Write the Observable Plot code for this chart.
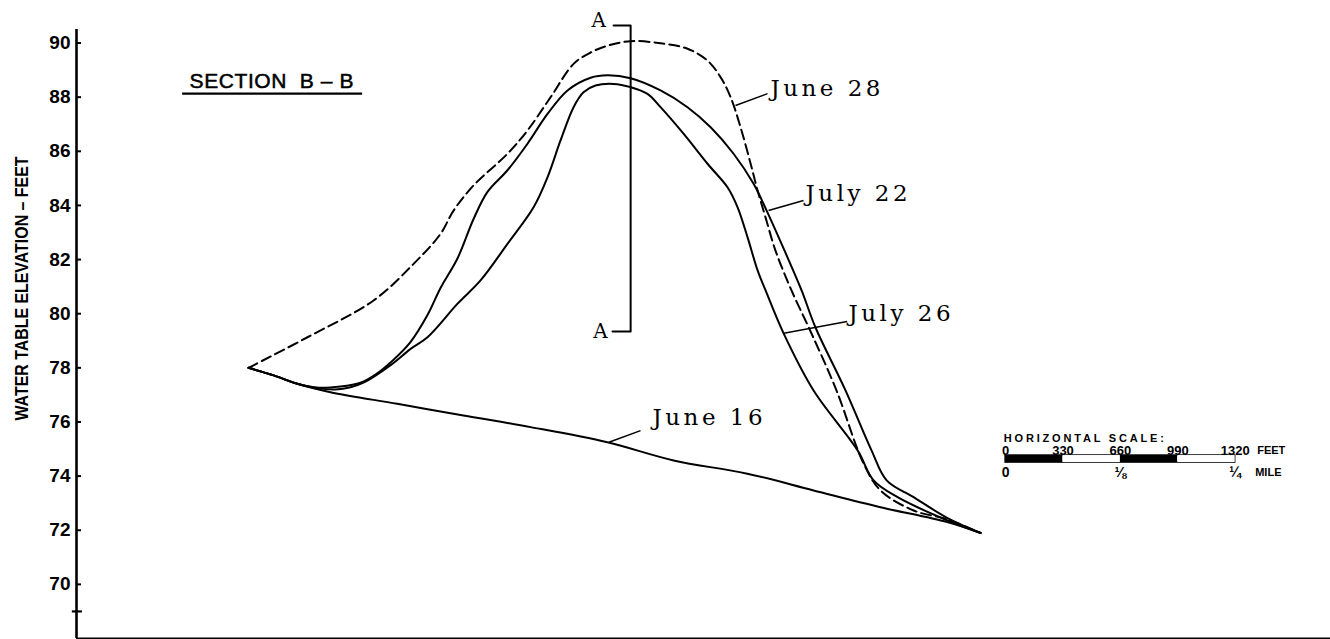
<!DOCTYPE html>
<html><head><meta charset="utf-8">
<script src="https://cdn.jsdelivr.net/npm/d3@7"></script>
<script src="https://cdn.jsdelivr.net/npm/@observablehq/plot@0.6"></script>
<style>
html,body{margin:0;padding:0;background:#fff;}
#chart svg{display:block;}
g[aria-description="typed"] text{letter-spacing:3.5px;}
</style></head><body><div id="chart"></div>
<script>
// distance along section (feet), water-table elevation (feet)
const june16 = [[989,78.0],[1134,77.72],[1269,77.41],[1460,77.10],[1844,76.67],[2225,76.24],[2611,75.81],[3052,75.25],[3433,74.58],[3857,74.09],[4238,73.47],[4623,72.85],[5006,72.30],[5198,71.9]];
const june28 = [[989,78.0],[1328,79.13],[1708,80.49],[1938,81.84],[2093,82.95],[2168,83.81],[2283,84.74],[2478,85.91],[2593,86.77],[2726,88.0],[2858,89.23],[2956,89.65],[3053,89.90],[3186,90.07],[3358,89.99],[3513,89.79],[3628,89.35],[3703,88.74],[3761,88.0],[3818,86.89],[3876,85.54],[3916,84.55],[3962,83.55],[4019,82.33],[4111,80.86],[4226,79.27],[4370,77.16],[4525,74.47],[4623,73.47],[4813,72.73],[5008,72.40],[5198,71.9]];
const july22 = [[989,78.0],[1134,77.72],[1269,77.41],[1380,77.27],[1518,77.31],[1633,77.45],[1719,77.75],[1823,78.30],[1920,78.95],[2018,79.95],[2093,80.95],[2191,82.05],[2283,83.50],[2363,84.50],[2478,85.30],[2593,86.28],[2708,87.38],[2823,88.25],[2956,88.72],[3053,88.81],[3186,88.70],[3358,88.25],[3513,87.63],[3646,86.89],[3778,85.91],[3893,84.80],[3968,83.81],[4071,82.33],[4169,80.86],[4249,79.49],[4422,77.16],[4571,74.95],[4658,73.84],[4813,73.22],[5008,72.45],[5198,71.9]];
const july26 = [[989,78.0],[1134,77.72],[1269,77.41],[1380,77.25],[1489,77.20],[1576,77.28],[1650,77.45],[1806,78.10],[1921,78.70],[2018,79.13],[2191,80.37],[2323,81.23],[2478,82.58],[2628,83.93],[2708,85.04],[2783,86.40],[2858,87.63],[2915,88.18],[2984,88.43],[3088,88.49],[3186,88.37],[3283,88.12],[3358,87.63],[3490,86.65],[3628,85.54],[3743,84.67],[3801,83.93],[3858,82.83],[3916,81.60],[3962,80.86],[4065,79.28],[4238,77.16],[4491,74.95],[4583,73.84],[4721,73.22],[5008,72.36],[5198,71.9]];

const yTicks = [70,72,74,76,78,80,82,84,86,88,90];
const crossTick = [69];
const yTitle = "WATER TABLE ELEVATION – FEET";
const sectionTitle = "SECTION  B – B";

const curveLabels = [
  {text:"June 28", x:3990, y:88.30},
  {text:"July 22", x:4192, y:84.44},
  {text:"July 26", x:4439, y:80.01},
  {text:"June 16", x:3312, y:76.17}
];
const leaders = [
  {x1:3789, y1:87.69, x2:3973, y2:88.13},
  {x1:3979, y1:83.81, x2:4180, y2:84.18},
  {x1:4067, y1:79.28, x2:4431, y2:79.71},
  {x1:3061, y1:75.25, x2:3243, y2:75.68}
];
const sectionA = [[3088,90.65],[3186,90.65],[3186,79.34],[3082,79.34]];
const sectionALabels = [{text:"A", x:3002, y:90.83},{text:"A", x:3013, y:79.34}];

const scaleOrigin = 5342;              // left end of the scale bar, in chart feet
const scaleFeet = [0,330,660,990,1320];
const scaleMiles = [{ft:0,label:"0"},{ft:660,label:"⅛"},{ft:1320,label:"¼"}];

const rows = (name, pts) => pts.map(([x,y]) => ({series:name, x, y}));
const solid = [...rows("June 16", june16), ...rows("July 22", july22), ...rows("July 26", july26)];
const dashed = rows("June 28", june28);

const segs = scaleFeet.slice(0,-1).map((f,i) => ({x1:scaleOrigin+f, x2:scaleOrigin+scaleFeet[i+1], fill: i%2===0 ? "black" : "white"}));

const svg = Plot.plot({
  width:1330, height:639,
  marginLeft:76, marginRight:0, marginTop:29, marginBottom:1,
  style:{fontFamily:"Liberation Sans", background:"white", color:"black"},
  x:{domain:[0,7210], axis:null},
  y:{domain:[68,90.5], axis:null},
  marks:[
    Plot.ruleY([68], {strokeWidth:2}),
    Plot.ruleX([0], {y1:68, y2:90.5, strokeWidth:2.6}),
    Plot.ruleY(yTicks, {y:d=>d, x1:0, x2:29, strokeWidth:2}),
    Plot.ruleY(crossTick, {y:d=>d, x1:-24, x2:34, strokeWidth:2.2}),
    Plot.text(yTicks, {x:0, y:d=>d, text:d=>String(d), textAnchor:"end", dx:-6, fontSize:19, fontWeight:"bold"}),
    Plot.text([yTitle], {x:-316, y:80.93, text:d=>d, rotate:-90, fontSize:19, fontWeight:"bold", ariaDescription:"ytitle"}),
    Plot.text([sectionTitle], {x:650, y:88.59, text:d=>d, textAnchor:"start", fontSize:21, stroke:"black", strokeWidth:0.5, fill:"black", ariaDescription:"section"}),
    Plot.ruleY([88.13], {x1:610, x2:1645, strokeWidth:2.4}),
    Plot.line(sectionA, {x:d=>d[0], y:d=>d[1], strokeWidth:2}),
    Plot.text(sectionALabels, {x:"x", y:"y", text:"text", fontFamily:"DejaVu Serif", fontSize:20}),
    Plot.line(solid, {x:"x", y:"y", z:"series", curve:"catmull-rom", strokeWidth:2}),
    Plot.line(dashed, {x:"x", y:"y", curve:"catmull-rom", strokeWidth:2, strokeDasharray:"10,5"}),
    Plot.link(leaders, {x1:"x1", y1:"y1", x2:"x2", y2:"y2", strokeWidth:1.5}),
    Plot.text(curveLabels, {x:"x", y:"y", text:"text", textAnchor:"start", fontFamily:"DejaVu Serif", fontSize:23, ariaDescription:"typed"}),
    Plot.text(["HORIZONTAL SCALE:"], {x:scaleOrigin-10, y:75.39, text:d=>d, textAnchor:"start", fontSize:11, fontWeight:"bold", ariaDescription:"hscale"}),
    Plot.rect([0], {x1:scaleOrigin, x2:scaleOrigin+1320, y1:74.50, y2:74.76, fill:"white", stroke:"black", strokeWidth:1.5}),
    Plot.rect(segs, {x1:"x1", x2:"x2", y1:74.50, y2:74.76, fill:"fill"}),
    Plot.text(scaleFeet, {x:d=>scaleOrigin+d, y:74.93, text:d=>String(d), fontSize:13, fontWeight:"bold"}),
    Plot.text(["FEET"], {x:scaleOrigin+1320, y:74.93, dx:22, text:d=>d, textAnchor:"start", fontSize:11, fontWeight:"bold"}),
    Plot.text(scaleMiles, {x:d=>scaleOrigin+d.ft, y:74.12, text:"label", fontSize:14, fontWeight:"bold"}),
    Plot.text(["MILE"], {x:scaleOrigin+1320, y:74.14, dx:20, text:d=>d, textAnchor:"start", fontSize:11, fontWeight:"bold"})
  ]
});
d3.select(svg).selectAll('g[aria-description="ytitle"] text').attr("textLength",264).attr("lengthAdjust","spacingAndGlyphs");
d3.select(svg).selectAll('g[aria-description="section"] text').attr("textLength",164).attr("lengthAdjust","spacing");
d3.select(svg).selectAll('g[aria-description="hscale"] text').attr("textLength",160).attr("lengthAdjust","spacing");
document.getElementById("chart").appendChild(svg);
</script></body></html>
